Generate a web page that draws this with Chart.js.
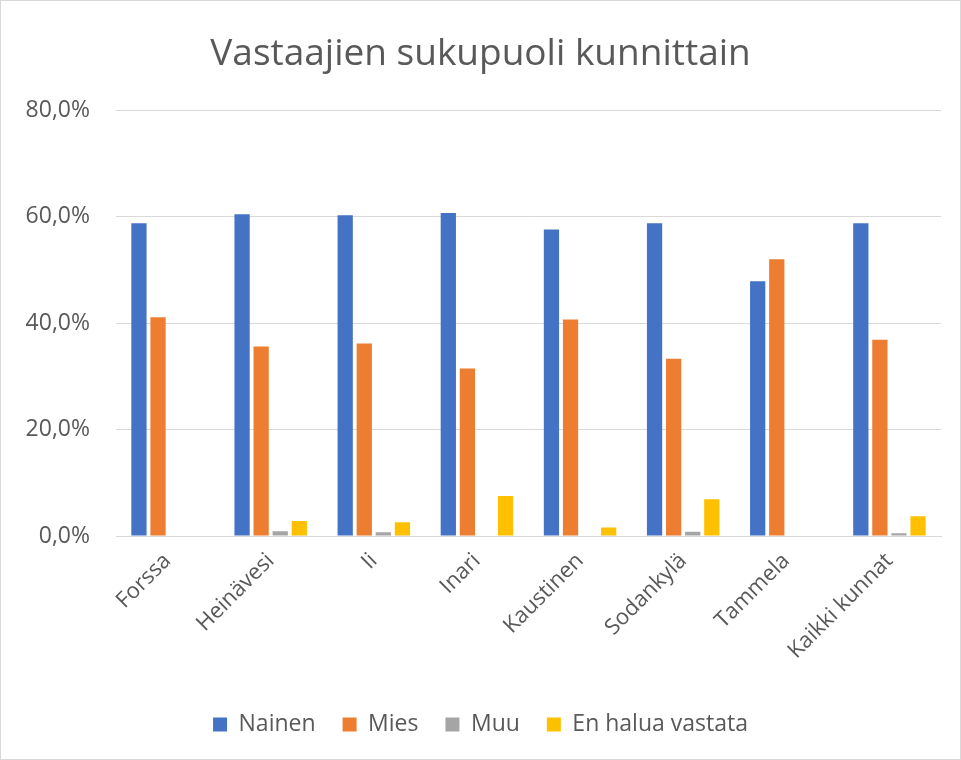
<!DOCTYPE html>
<html>
<head>
<meta charset="utf-8">
<script src="https://cdn.jsdelivr.net/npm/chart.js@4.4.0/dist/chart.umd.min.js"></script>
<style>
html,body{margin:0;padding:0;background:#fff;}
#wrap{width:961px;height:760px;position:relative;}
</style>
</head>
<body>
<div id="wrap"><canvas id="c" width="961" height="760"></canvas></div>
<script>
const categories = ["Forssa","Heinävesi","Ii","Inari","Kaustinen","Sodankylä","Tammela","Kaikki kunnat"];
const nainen = [58.8,60.5,60.3,60.7,57.6,58.8,47.9,58.8];
const mies = [41.1,35.6,36.2,31.5,40.7,33.3,52.0,36.9];
const muu = [0,0.9,0.7,0,0,0.8,0,0.5];
const enHalua = [0,2.8,2.6,7.5,1.6,6.9,0,3.7];
const seriesNames = ["Nainen","Mies","Muu","En halua vastata"];
const yTicks = [0,20,40,60,80];

const FONT = "'Open Sans', 'Noto Sans', sans-serif";
const GREY = "#595959";

const borderPlugin = {
  id: 'frame',
  afterDraw(chart){
    const ctx = chart.ctx;
    ctx.save();
    ctx.strokeStyle = '#d9d9d9';
    ctx.lineWidth = 1;
    ctx.strokeRect(0.5,0.5,chart.width-1,chart.height-1);
    ctx.restore();
  }
};

new Chart(document.getElementById('c'), {
  type: 'bar',
  data: {
    labels: categories,
    datasets: [
      {label: seriesNames[0], data: nainen, backgroundColor: '#4472c4'},
      {label: seriesNames[1], data: mies, backgroundColor: '#ed7d31'},
      {label: seriesNames[2], data: muu, backgroundColor: '#a5a5a5'},
      {label: seriesNames[3], data: enHalua, backgroundColor: '#ffc000'}
    ]
  },
  options: {
    responsive: false,
    animation: false,
    devicePixelRatio: 1,
    layout: {padding: {left: 20, right: 20, top: 20, bottom: 14}},
    datasets: {bar: {categoryPercentage: 0.74, barPercentage: 0.8}},
    plugins: {
      title: {
        display: true,
        text: 'Vastaajien sukupuoli kunnittain',
        color: GREY,
        font: {family: FONT, size: 37, weight: 'normal'},
        padding: {top: 12, bottom: 34}
      },
      legend: {
        position: 'bottom',
        labels: {
          color: GREY,
          font: {family: FONT, size: 23},
          boxWidth: 14, boxHeight: 14,
          padding: 27
        }
      },
      tooltip: {enabled: false}
    },
    scales: {
      x: {
        grid: {display: false},
        border: {display: true, color: '#d9d9d9'},
        ticks: {
          color: GREY,
          font: {family: FONT, size: 22},
          minRotation: 45, maxRotation: 45,
          padding: 4
        },
        afterFit(scale){ scale.height = 150; }
      },
      y: {
        min: 0, max: 80,
        afterBuildTicks(scale){ scale.ticks = yTicks.map(v => ({value: v})); },
        grid: {color: '#d9d9d9', lineWidth: 1, drawTicks: false},
        border: {display: false},
        ticks: {
          color: GREY,
          font: {family: FONT, size: 23},
          padding: 26,
          callback: v => v.toFixed(1).replace('.', ',') + '%'
        },
        afterFit(scale){ scale.width = 96; }
      }
    }
  },
  plugins: [borderPlugin]
});
</script>
</body>
</html>
